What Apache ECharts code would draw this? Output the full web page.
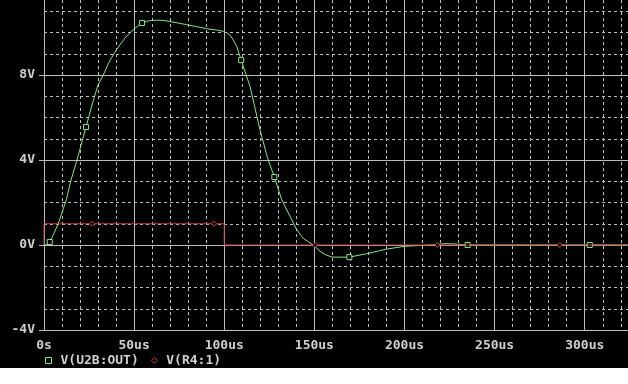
<!DOCTYPE html>
<html>
<head>
<meta charset="utf-8">
<script src="https://cdn.jsdelivr.net/npm/echarts@6/dist/echarts.min.js"></script>
<style>
html,body{margin:0;padding:0;background:#ffffff;}
#chart{width:628px;height:368px;background:#000000;}
</style>
</head>
<body>
<div id="chart"></div>
<script>
// ---- data ----
var seriesNames = ['V(U2B:OUT)', 'V(R4:1)'];
var xTickLabels = ['0s', '50us', '100us', '150us', '200us', '250us', '300us'];
var yTickLabels = ['-4V', '0V', '4V', '8V'];

// V(U2B:OUT): time in us, volts
var greenT = [0, 2.5, 3.2, 5, 8, 12.4, 14.8, 18.3, 23.3, 27, 30, 32.8, 36, 40.2, 45, 49.4, 54.4, 58, 62.4, 66, 69.8, 79.1, 90.2, 97, 99.4, 101.5, 103.2, 105, 106.9, 109.4, 114.3, 119.8, 124, 127.8, 131.9, 136.5, 140.2, 144, 149.4, 153.2, 156, 159.7, 169.4, 179.1, 190.2, 200.2, 206.9, 215, 222, 228, 232, 235, 260, 302.8, 324];
var greenV = [0, 0.02, 0.14, 0.45, 1.03, 2.13, 3.0, 4.0, 5.55, 6.7, 7.54, 7.98, 8.6, 9.19, 9.75, 10.13, 10.45, 10.55, 10.58, 10.57, 10.52, 10.37, 10.18, 10.1, 10.06, 9.98, 9.88, 9.65, 9.35, 8.7, 7.46, 5.43, 4.1, 3.2, 2.13, 1.35, 0.72, 0.3, 0, -0.3, -0.45, -0.57, -0.57, -0.41, -0.19, -0.06, -0.03, 0, 0.06, 0.05, 0.02, 0, 0, 0, 0];
var greenMarks = [2, 8, 16, 29, 33, 42, 51, 53];

// V(R4:1)
var redT = [0, 0, 26.7, 94.3, 100, 100, 150.4, 218.3, 286.1, 324];
var redV = [0, 1, 1, 1, 1, 0, 0, 0, 0, 0];
var redMarks = [2, 3, 6, 7, 8];

// ---- chart ----
var GREEN = '#80e880';
var RED = '#cc4040';
var GRID = '#bdbdbd';
var TEXT = '#cfcfcf';
var FONT = 'DejaVu Sans Mono';

function build(ts, vs, marks, sym) {
  return ts.map(function (t, i) {
    return { value: [t, vs[i]], symbol: marks.indexOf(i) >= 0 ? sym : 'none' };
  });
}

function fmtX(v) {
  var i = Math.round(v / 50);
  if (Math.abs(v - i * 50) < 1e-6 && i >= 0 && i < xTickLabels.length) return xTickLabels[i];
  return '';
}
function fmtY(v) {
  var i = Math.round((v + 4) / 4);
  if (Math.abs(v - (i * 4 - 4)) < 1e-6 && i >= 0 && i < yTickLabels.length) return yTickLabels[i];
  return '';
}

var chart = echarts.init(document.getElementById('chart'), null, { renderer: 'canvas' });
var XMAX = 324, YMIN = -4, YMAX = -4 + 330 / 21.25;

chart.setOption({
  backgroundColor: '#000000',
  animation: false,
  grid: { left: 44, right: 0, top: 0, bottom: 38, containLabel: false },
  legend: {
    left: 45, top: 354, padding: 0, itemWidth: 6, itemHeight: 6, itemGap: 12,
    textStyle: { color: TEXT, fontFamily: FONT, fontSize: 13, fontWeight: 'bold', padding: [0, 0, 0, 4] },
    data: [
      { name: seriesNames[0], icon: 'rect', itemStyle: { color: '#000', borderColor: GREEN, borderWidth: 1 } },
      { name: seriesNames[1], icon: 'diamond', itemStyle: { color: '#000', borderColor: RED, borderWidth: 1 } }
    ]
  },
  xAxis: [
    {
      type: 'value', min: 0, max: XMAX, interval: 50, z: 1,
      axisLine: { show: true, onZero: false, lineStyle: { color: GRID, width: 1 } },
      axisTick: { show: false },
      axisLabel: { color: TEXT, fontFamily: FONT, fontSize: 13, fontWeight: 'bold', margin: 9, formatter: fmtX, showMaxLabel: false },
      splitLine: { show: true, showMaxLine: false, lineStyle: { color: GRID, width: 1, type: 'solid' } }
    },
    {
      type: 'value', min: 0, max: XMAX, interval: 10, z: 0,
      axisLine: { show: false }, axisTick: { show: false }, axisLabel: { show: false },
      splitLine: { show: true, showMaxLine: false, lineStyle: { color: GRID, width: 1, type: [3, 3] } }
    }
  ],
  yAxis: [
    {
      type: 'value', min: YMIN, max: YMAX, interval: 4, z: 1,
      axisLine: { show: true, onZero: false, lineStyle: { color: GRID, width: 1 } },
      axisTick: { show: true, length: 5, lineStyle: { color: GRID } },
      axisLabel: { color: TEXT, fontFamily: FONT, fontSize: 13, fontWeight: 'bold', margin: 9, formatter: fmtY, showMaxLabel: false },
      splitLine: { show: true, showMaxLine: false, lineStyle: { color: GRID, width: 1, type: 'solid' } }
    },
    {
      type: 'value', min: YMIN, max: YMAX, interval: 1, z: 0,
      axisLine: { show: false }, axisTick: { show: false }, axisLabel: { show: false },
      splitLine: { show: true, showMaxLine: false, lineStyle: { color: GRID, width: 1, type: [3, 3] } }
    }
  ],
  series: [
    {
      name: seriesNames[0], type: 'line', xAxisIndex: 0, yAxisIndex: 0,
      data: build(greenT, greenV, greenMarks, 'rect'),
      showSymbol: true, showAllSymbol: true, symbolSize: 5,
      itemStyle: { color: '#000', borderColor: GREEN, borderWidth: 1 },
      lineStyle: { color: GREEN, width: 1 },
      emphasis: { disabled: true }, z: 2
    },
    {
      name: seriesNames[1], type: 'line', xAxisIndex: 0, yAxisIndex: 0,
      data: build(redT, redV, redMarks, 'diamond'),
      showSymbol: true, showAllSymbol: true, symbolSize: 5,
      itemStyle: { color: '#000', borderColor: RED, borderWidth: 1 },
      lineStyle: { color: RED, width: 1 },
      emphasis: { disabled: true }, z: 3
    }
  ]
});
</script>
</body>
</html>
